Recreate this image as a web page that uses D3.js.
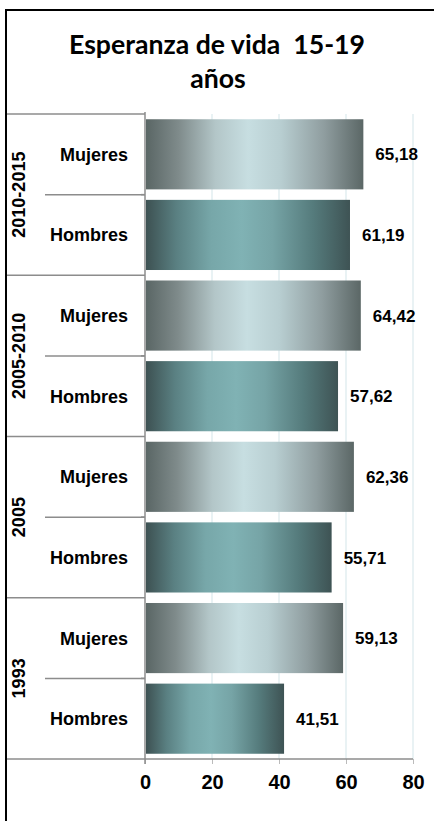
<!DOCTYPE html>
<html>
<head>
<meta charset="utf-8">
<script src="https://cdnjs.cloudflare.com/ajax/libs/d3/7.8.5/d3.min.js"></script>
<style>
  body { margin: 0; background: #fff; }
  text { font-family: "Liberation Sans", Arial, sans-serif; font-weight: bold; fill: #000; }
</style>
</head>
<body>
<div id="chart"></div>
<script>
// Data
var groups = ["2010-2015", "2005-2010", "2005", "1993"];
var sexes = ["Mujeres", "Hombres"];
var mujeres = [65.18, 64.42, 62.36, 59.13];
var hombres = [61.19, 57.62, 55.71, 41.51];
var tickValues = [0, 20, 40, 60, 80];

var svgWidth = 434;
var svgHeight = 821;

// plot area
var plotLeft = 145, plotRight = 413, plotTop = 114, plotBottom = 759;

var svg = d3.select("#chart")
  .append("svg")
  .attr("width", svgWidth)
  .attr("height", svgHeight);

// gradients
var defs = svg.append("defs");
function addGrad(id, stops) {
  var g = defs.append("linearGradient").attr("id", id)
    .attr("x1", "0").attr("x2", "1").attr("y1", "0").attr("y2", "0");
  stops.forEach(function(s) {
    g.append("stop").attr("offset", s[0]).attr("stop-color", s[1]);
  });
}
addGrad("gradM", [[0, "#5a6665"], [0.15, "#7f8b8b"], [0.32, "#b3c6c8"], [0.47, "#c7dee1"], [0.62, "#b8ced1"], [0.82, "#8f9d9f"], [1, "#5b6766"]]);
addGrad("gradH", [[0, "#3d5152"], [0.15, "#5a8082"], [0.32, "#77a7a9"], [0.47, "#80b2b4"], [0.62, "#76a4a6"], [0.82, "#557b7c"], [1, "#3e5354"]]);

// rows
var rows = [];
groups.forEach(function(g, i) {
  rows.push({ group: g, sex: sexes[0], value: mujeres[i], key: g + "|" + sexes[0] });
  rows.push({ group: g, sex: sexes[1], value: hombres[i], key: g + "|" + sexes[1] });
});

var x = d3.scaleLinear().domain([0, 80]).range([plotLeft, plotRight]);
var y = d3.scaleBand()
  .domain(rows.map(d => d.key))
  .range([plotTop, plotBottom])
  .paddingInner(0.13)
  .paddingOuter(0.065);
var step = y.step();

// outer border
svg.append("rect")
  .attr("x", 6).attr("y", 10)
  .attr("width", 440).attr("height", 830)
  .attr("fill", "none")
  .attr("stroke", "#000")
  .attr("stroke-width", 2);

// title
var title = svg.append("text")
  .attr("text-anchor", "middle")
  .style("font-family", "Lato, 'Open Sans', sans-serif");
title.append("tspan").attr("x", 217).attr("y", 54).text("Esperanza de vida\u00a0\u00a015-19");
title.append("tspan").attr("x", 218).attr("y", 88).text("años");
// fit title width to the reference
title.style("font-size", "24px");
var w = title.select("tspan").node().getComputedTextLength();
title.style("font-size", (24 * 296 / w) + "px");

// gridlines
svg.append("g")
  .selectAll("line")
  .data(tickValues.slice(1))
  .enter()
  .append("line")
  .attr("x1", d => x(d)).attr("x2", d => x(d))
  .attr("y1", plotTop).attr("y2", plotBottom)
  .attr("stroke", "#d3e5e9")
  .attr("stroke-width", 1);

// bars
svg.append("g")
  .selectAll("rect")
  .data(rows)
  .enter()
  .append("rect")
  .attr("x", x(0) + 1)
  .attr("y", d => y(d.key))
  .attr("width", d => x(d.value) - x(0) - 1)
  .attr("height", y.bandwidth())
  .attr("fill", d => d.sex == "Mujeres" ? "url(#gradM)" : "url(#gradH)");

// value labels
svg.append("g")
  .selectAll("text")
  .data(rows)
  .enter()
  .append("text")
  .attr("x", d => x(d.value) + 12)
  .attr("y", d => y(d.key) + y.bandwidth() / 2)
  .attr("dy", "0.36em")
  .style("font-size", "17px")
  .text(d => d.value.toFixed(2).replace(".", ","));

// x axis
var bottomAxis = d3.axisBottom(x).tickValues(tickValues).tickSize(5).tickPadding(11);
var xg = svg.append("g")
  .attr("transform", `translate(0, ${plotBottom})`)
  .call(bottomAxis);
xg.select(".domain").remove();
xg.selectAll(".tick line").attr("stroke", "#bbb");
xg.selectAll(".tick text")
  .style("font-family", "'Liberation Sans', Arial, sans-serif")
  .style("font-weight", "bold")
  .style("font-size", "20px")
  .attr("fill", "#000");

// category table lines
var lineColor = "#8c8c8c";
var lines = svg.append("g").attr("stroke", lineColor).attr("stroke-width", 1.5);
groups.forEach(function(g, i) {
  var yy = y(g + "|" + sexes[0]) - y.paddingOuter() * step;
  if (i > 0) yy = y(g + "|" + sexes[0]) - y.paddingInner() * step / 2;
  lines.append("line").attr("x1", 7).attr("x2", plotLeft).attr("y1", yy).attr("y2", yy);
  var mid = y(g + "|" + sexes[1]) - y.paddingInner() * step / 2;
  lines.append("line").attr("x1", 45).attr("x2", plotLeft).attr("y1", mid).attr("y2", mid);
  lines.append("line").attr("x1", plotLeft - 4).attr("x2", plotLeft).attr("y1", mid).attr("y2", mid);
});
// bottom / axis line
lines.append("line").attr("x1", 7).attr("x2", plotRight).attr("y1", plotBottom).attr("y2", plotBottom);
// vertical axis line
lines.append("line").attr("x1", plotLeft).attr("x2", plotLeft).attr("y1", plotTop - 2).attr("y2", plotBottom + 5);

// sex labels
svg.append("g")
  .selectAll("text")
  .data(rows)
  .enter()
  .append("text")
  .attr("x", 128)
  .attr("y", d => y(d.key) + y.bandwidth() / 2)
  .attr("dy", "0.36em")
  .attr("text-anchor", "end")
  .style("font-size", "18px")
  .text(d => d.sex);

// group labels (rotated)
svg.append("g")
  .selectAll("text")
  .data(groups)
  .enter()
  .append("text")
  .attr("transform", function(g) {
    var cy = y(g + "|" + sexes[1]) - y.paddingInner() * step / 2;
    return `translate(25, ${cy}) rotate(-90)`;
  })
  .attr("text-anchor", "middle")
  .style("font-size", "18px")
  .text(d => d);
</script>
</body>
</html>
